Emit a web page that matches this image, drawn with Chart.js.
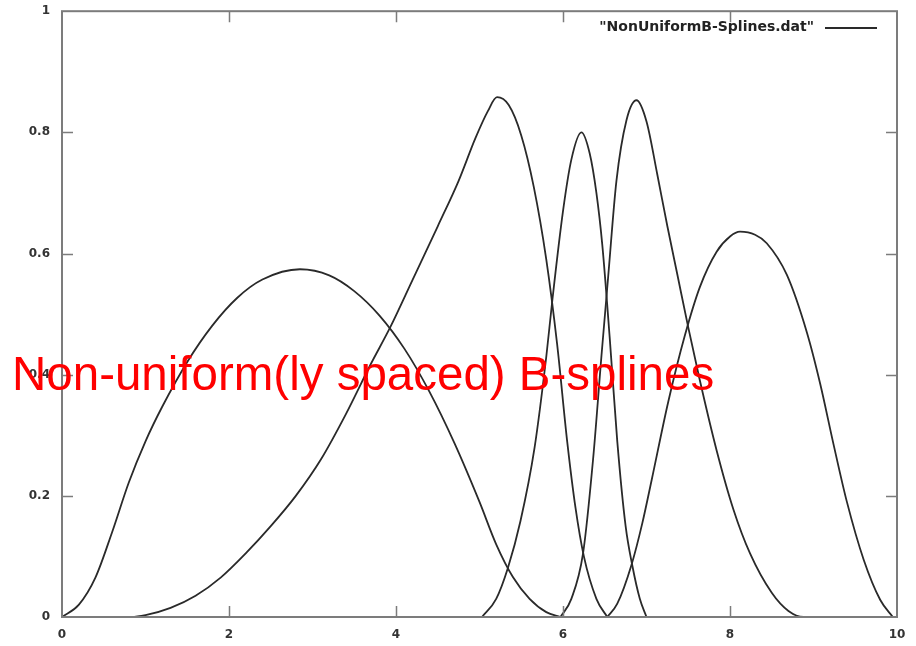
<!DOCTYPE html>
<html>
<head>
<meta charset="utf-8">
<script src="https://cdn.jsdelivr.net/npm/chart.js@4/dist/chart.umd.min.js"></script>
<style>
  html, body { margin: 0; padding: 0; background: #fff; }
  #wrap { width: 916px; height: 646px; position: relative; }
</style>
</head>
<body>
<div id="wrap"><canvas id="splines" width="916" height="646"></canvas></div>
<script>
// Etichette e tick degli assi
const seriesLabel = '"NonUniformB-Splines.dat"';
const chartTitle = "Non-uniform(ly spaced) B-splines";
const xTicks = [0, 2, 4, 6, 8, 10];
const xTickLabels = ["0", "2", "4", "6", "8", "10"];
const yTicks = [0, 0.2, 0.4, 0.6, 0.8, 1];
const yTickLabels = ["0", "0.2", "0.4", "0.6", "0.8", "1"];

// Curve (x, y)
const curveAX = [0, 0.2, 0.4, 0.6, 0.8, 1.0, 1.2, 1.5, 1.8, 2.1, 2.4, 2.85, 3.2, 3.5, 3.8, 4.1, 4.4, 4.7, 5.0, 5.2, 5.4, 5.6, 5.8, 5.97];
const curveAY = [0, 0.02, 0.065, 0.14, 0.222, 0.29, 0.347, 0.421, 0.481, 0.527, 0.557, 0.574, 0.564, 0.538, 0.498, 0.443, 0.372, 0.287, 0.19, 0.12, 0.066, 0.03, 0.008, 0];

const curveBX = [0.5, 0.83, 1.0, 1.3, 1.6, 1.9, 2.2, 2.5, 2.8, 3.1, 3.4, 3.7, 3.93, 4.2, 4.5, 4.75, 4.95, 5.1, 5.21, 5.35, 5.5, 5.65, 5.8, 5.93, 6.05, 6.15, 6.25, 6.4, 6.53];
const curveBY = [0, 0, 0.003, 0.015, 0.035, 0.065, 0.105, 0.15, 0.2, 0.26, 0.335, 0.418, 0.478, 0.557, 0.645, 0.72, 0.79, 0.835, 0.858, 0.845, 0.795, 0.71, 0.59, 0.45, 0.29, 0.18, 0.10, 0.03, 0];

const curveCX = [5.03, 5.2, 5.34, 5.49, 5.66, 5.8, 5.87, 6.0, 6.1, 6.22, 6.32, 6.4, 6.47, 6.56, 6.65, 6.75, 6.83, 6.92, 7.0];
const curveCY = [0, 0.03, 0.081, 0.158, 0.28, 0.43, 0.52, 0.67, 0.755, 0.80, 0.765, 0.70, 0.615, 0.46, 0.29, 0.15, 0.085, 0.03, 0];

const curveDX = [5.97, 6.1, 6.24, 6.36, 6.46, 6.54, 6.64, 6.76, 6.88, 7.0, 7.13, 7.25, 7.37, 7.5, 7.64, 7.84, 8.04, 8.24, 8.5, 8.7, 8.88, 9.9];
const curveDY = [0, 0.03, 0.105, 0.26, 0.43, 0.56, 0.72, 0.82, 0.853, 0.818, 0.73, 0.645, 0.565, 0.478, 0.39, 0.275, 0.178, 0.105, 0.04, 0.01, 0, 0];

const curveEX = [6.53, 6.65, 6.82, 6.95, 7.06, 7.26, 7.46, 7.64, 7.84, 8.0, 8.12, 8.3, 8.44, 8.68, 8.92, 9.08, 9.24, 9.4, 9.6, 9.8, 9.95];
const curveEY = [0, 0.022, 0.086, 0.155, 0.225, 0.355, 0.465, 0.545, 0.603, 0.628, 0.636, 0.631, 0.617, 0.565, 0.47, 0.385, 0.285, 0.19, 0.095, 0.028, 0];

const curves = [
    [curveAX, curveAY],
    [curveBX, curveBY],
    [curveCX, curveCY],
    [curveDX, curveDY],
    [curveEX, curveEY]
];

const lineColor = "#2a2a2a";
const frameColor = "#7c7c7c";
const tickFont = { family: "DejaVu Sans", size: 12, weight: "bold" };

// Cornice in stile gnuplot, tick interni, legenda e titolo rosso
const gnuplotFrame = {
    id: "gnuplotFrame",
    afterDatasetsDraw(chart) {
        const { ctx, chartArea: a, scales: { x, y } } = chart;
        ctx.save();
        ctx.strokeStyle = frameColor;
        ctx.lineWidth = 2;
        ctx.strokeRect(a.left, a.top, a.right - a.left, a.bottom - a.top);

        ctx.beginPath();
        xTicks.slice(1, -1).forEach(v => {
            const px = Math.round(x.getPixelForValue(v)) + 0.5;
            ctx.moveTo(px, a.bottom); ctx.lineTo(px, a.bottom - 11);
            ctx.moveTo(px, a.top); ctx.lineTo(px, a.top + 11);
        });
        yTicks.slice(1, -1).forEach(v => {
            const py = Math.round(y.getPixelForValue(v)) + 0.5;
            ctx.moveTo(a.left, py); ctx.lineTo(a.left + 11, py);
            ctx.moveTo(a.right, py); ctx.lineTo(a.right - 11, py);
        });
        ctx.lineWidth = 1.5;
        ctx.stroke();

        // legenda (key)
        ctx.fillStyle = "#222";
        ctx.font = "bold 14px 'DejaVu Sans'";
        ctx.textAlign = "right";
        ctx.textBaseline = "middle";
        ctx.fillText(chart.data.datasets[0].label, 814, 27);
        ctx.beginPath();
        ctx.moveTo(825, 28); ctx.lineTo(877, 28);
        ctx.strokeStyle = lineColor;
        ctx.lineWidth = 2;
        ctx.stroke();

        // titolo rosso sovrapposto
        ctx.fillStyle = "#ff0000";
        ctx.font = "47.5px 'Liberation Sans', Arial, sans-serif";
        ctx.textAlign = "left";
        ctx.textBaseline = "alphabetic";
        ctx.fillText(chartTitle, 12, 390);
        ctx.restore();
    }
};

const datasets = curves.map(([xs, ys], i) => ({
    label: i === 0 ? seriesLabel : seriesLabel + " " + i,
    data: xs.map((xv, k) => ({ x: xv, y: ys[k] })),
    borderColor: lineColor,
    borderWidth: 1.8,
    pointRadius: 0,
    fill: false,
    cubicInterpolationMode: "monotone"
}));

const ctx = document.getElementById("splines").getContext("2d");
new Chart(ctx, {
    type: "line",
    data: { datasets: datasets },
    options: {
        responsive: false,
        animation: false,
        layout: { padding: { top: 2, right: 19, left: 0, bottom: 0 } },
        plugins: {
            legend: { display: false },
            tooltip: { enabled: false }
        },
        scales: {
            x: {
                type: "linear",
                min: 0,
                max: 10,
                grid: { display: false },
                border: { display: false },
                afterBuildTicks: s => { s.ticks = xTicks.map(v => ({ value: v })); },
                afterFit: s => { s.height = 29; },
                ticks: {
                    padding: 3,
                    color: "#333",
                    font: tickFont,
                    maxRotation: 0,
                    callback: (v, i) => xTickLabels[i]
                }
            },
            y: {
                type: "linear",
                min: 0,
                max: 1,
                grid: { display: false },
                border: { display: false },
                afterBuildTicks: s => { s.ticks = yTicks.map(v => ({ value: v })); },
                afterFit: s => { s.width = 62; },
                ticks: {
                    padding: 4,
                    color: "#333",
                    font: tickFont,
                    callback: (v, i) => yTickLabels[i]
                }
            }
        }
    },
    plugins: [gnuplotFrame]
});
</script>
</body>
</html>
